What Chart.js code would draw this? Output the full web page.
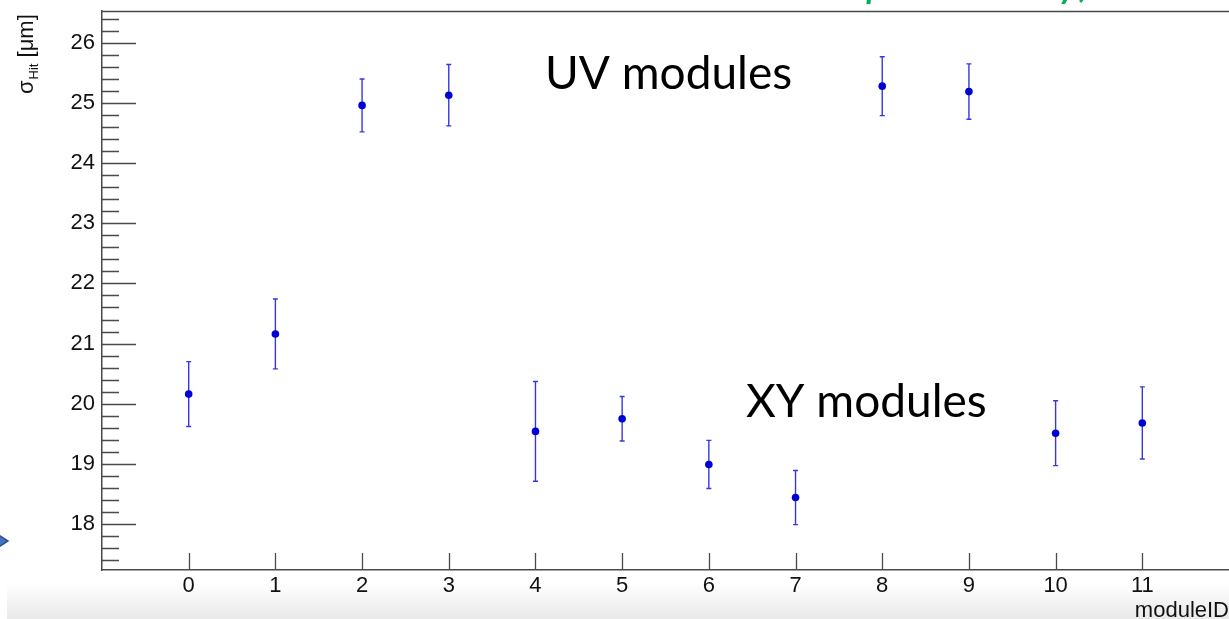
<!DOCTYPE html>
<html>
<head>
<meta charset="UTF-8">
<title>sigma Hit per module</title>
<script src="https://cdn.jsdelivr.net/npm/chart.js"></script>
<style>
  body { margin: 0; background: #fff; overflow: hidden; }
  canvas { display: block; }
</style>
</head>
<body>
<canvas id="hitChart" width="1229" height="619"></canvas>
<script>
// hit resolution per module, with errors
const moduleIds = [0, 1, 2, 3, 4, 5, 6, 7, 8, 9, 10, 11];
const sigmaHit  = [20.16, 21.16, 24.96, 25.13, 19.54, 19.75, 18.99, 18.44, 25.28, 25.19, 19.51, 19.68];
const sigmaErr  = [0.54, 0.58, 0.44, 0.51, 0.83, 0.37, 0.40, 0.45, 0.49, 0.46, 0.54, 0.60];

const xTickValues = [0, 1, 2, 3, 4, 5, 6, 7, 8, 9, 10, 11];
const yTickValues = [18, 19, 20, 21, 22, 23, 24, 25, 26];

const X_MIN = -1, X_MAX = 12;
const Y_MIN = 17.235, Y_MAX = 26.53;

const axisColor = '#4a4a4a';
const markerColor = '#0000d6';
const labelFont = 'Liberation Sans, Arial, sans-serif';

// keep the plot frame exactly where the layout padding puts it
function noScalePadding(s) {
  s.paddingTop = 0;
  s.paddingBottom = 0;
  s.paddingLeft = 0;
  s.paddingRight = 0;
}

const rootStyle = {
  id: 'rootStyle',
  beforeDraw(chart) {
    const ctx = chart.ctx;
    ctx.save();
    // slide footer shading
    const g = ctx.createLinearGradient(0, 583, 0, 619);
    g.addColorStop(0, '#ffffff');
    g.addColorStop(1, '#e9e9e9');
    ctx.fillStyle = g;
    ctx.fillRect(7, 583, chart.width - 7, 36);

    // arrow shape poking in from the left edge
    ctx.beginPath();
    ctx.moveTo(-12, 528);
    ctx.lineTo(8, 541);
    ctx.lineTo(-12, 554);
    ctx.closePath();
    ctx.fillStyle = '#4472c4';
    ctx.fill();
    ctx.lineWidth = 1.5;
    ctx.strokeStyle = '#2f4f8f';
    ctx.stroke();

    // caption above the plot, mostly out of view
    ctx.fillStyle = '#00b050';
    ctx.font = 'italic 46px Lato';
    ctx.textAlign = 'left';
    ctx.textBaseline = 'alphabetic';
    ctx.fillText('preliminary)', 866, -4);
    ctx.restore();
  },
  beforeDatasetsDraw(chart) {
    const ctx = chart.ctx;
    const xs = chart.scales.x, ys = chart.scales.y;
    ctx.save();
    ctx.strokeStyle = 'rgba(20, 20, 220, 0.85)';
    ctx.lineWidth = 1.4;
    sigmaHit.forEach((v, i) => {
      const px = xs.getPixelForValue(moduleIds[i]);
      const top = ys.getPixelForValue(v + sigmaErr[i]);
      const bot = ys.getPixelForValue(v - sigmaErr[i]);
      ctx.beginPath();
      ctx.moveTo(px, top); ctx.lineTo(px, bot);
      ctx.moveTo(px - 2.5, top); ctx.lineTo(px + 2.5, top);
      ctx.moveTo(px - 2.5, bot); ctx.lineTo(px + 2.5, bot);
      ctx.stroke();
    });
    ctx.restore();
  },
  afterDraw(chart) {
    const ctx = chart.ctx;
    const area = chart.chartArea;
    const xs = chart.scales.x, ys = chart.scales.y;
    ctx.save();
    ctx.strokeStyle = axisColor;
    ctx.lineWidth = 1.3;

    // inward tick marks on the y axis: majors + 4 minors between
    ctx.beginPath();
    for (let k = Math.ceil(Y_MIN * 5); k <= Math.floor(Y_MAX * 5); k++) {
      const py = Math.round(ys.getPixelForValue(k / 5)) + 0.5;
      const len = (k % 5 === 0) ? 34 : 17;
      ctx.moveTo(area.left, py);
      ctx.lineTo(area.left + len, py);
    }
    // x axis ticks
    xTickValues.forEach(v => {
      const px = Math.round(xs.getPixelForValue(v)) + 0.5;
      ctx.moveTo(px, area.bottom);
      ctx.lineTo(px, area.bottom - 17);
    });
    // top of the frame
    ctx.moveTo(area.left, area.top + 0.5);
    ctx.lineTo(chart.width, area.top + 0.5);
    ctx.stroke();

    // y title: sigma_Hit [um]
    ctx.fillStyle = '#111';
    ctx.translate(33, 94);
    ctx.rotate(-Math.PI / 2);
    ctx.textAlign = 'left';
    ctx.textBaseline = 'alphabetic';
    ctx.font = '22px ' + labelFont;
    ctx.fillText('σ', 0, 0);
    let w = ctx.measureText('σ').width;
    ctx.font = '13px ' + labelFont;
    ctx.fillText('Hit', w + 1, 5);
    w += 1 + ctx.measureText('Hit').width;
    ctx.font = '22px ' + labelFont;
    ctx.fillText(' [μm]', w, 0);
    ctx.setTransform(1, 0, 0, 1, 0, 0);

    // x title
    ctx.font = '22px ' + labelFont;
    ctx.textAlign = 'right';
    ctx.fillText('moduleID', 1229, 617);

    // group labels
    ctx.fillStyle = '#000';
    ctx.font = '46px Lato';
    ctx.textAlign = 'left';
    ctx.fillText('UV modules', 545, 89);
    ctx.fillText('XY modules', 746, 417);
    ctx.restore();
  }
};

new Chart(document.getElementById('hitChart'), {
  type: 'scatter',
  data: {
    datasets: [{
      label: 'sigmaHit',
      data: moduleIds.map((m, i) => ({ x: m, y: sigmaHit[i] })),
      backgroundColor: markerColor,
      borderColor: markerColor,
      borderWidth: 0,
      pointRadius: 3.8,
      pointHoverRadius: 3.8
    }]
  },
  options: {
    responsive: false,
    animation: false,
    events: [],
    layout: { autoPadding: false, padding: { top: 11, right: 0, left: 0, bottom: 0 } },
    plugins: { legend: { display: false }, tooltip: { enabled: false } },
    scales: {
      x: {
        type: 'linear',
        min: X_MIN,
        max: X_MAX,
        afterBuildTicks: s => { s.ticks = xTickValues.map(v => ({ value: v })); },
        afterFit: s => { s.height = 49; noScalePadding(s); },
        grid: { display: false, drawTicks: false },
        border: { display: true, color: axisColor, width: 1.5 },
        ticks: {
          color: '#111',
          font: { family: labelFont, size: 22 },
          padding: 3,
          maxRotation: 0,
          autoSkip: false
        }
      },
      y: {
        type: 'linear',
        min: Y_MIN,
        max: Y_MAX,
        afterBuildTicks: s => { s.ticks = yTickValues.map(v => ({ value: v })); },
        afterFit: s => { s.width = 102; noScalePadding(s); },
        grid: { display: false, drawTicks: false },
        border: { display: true, color: axisColor, width: 1.5 },
        ticks: {
          color: '#111',
          font: { family: labelFont, size: 22 },
          padding: 7,
          autoSkip: false
        }
      }
    }
  },
  plugins: [rootStyle]
});
</script>
</body>
</html>
